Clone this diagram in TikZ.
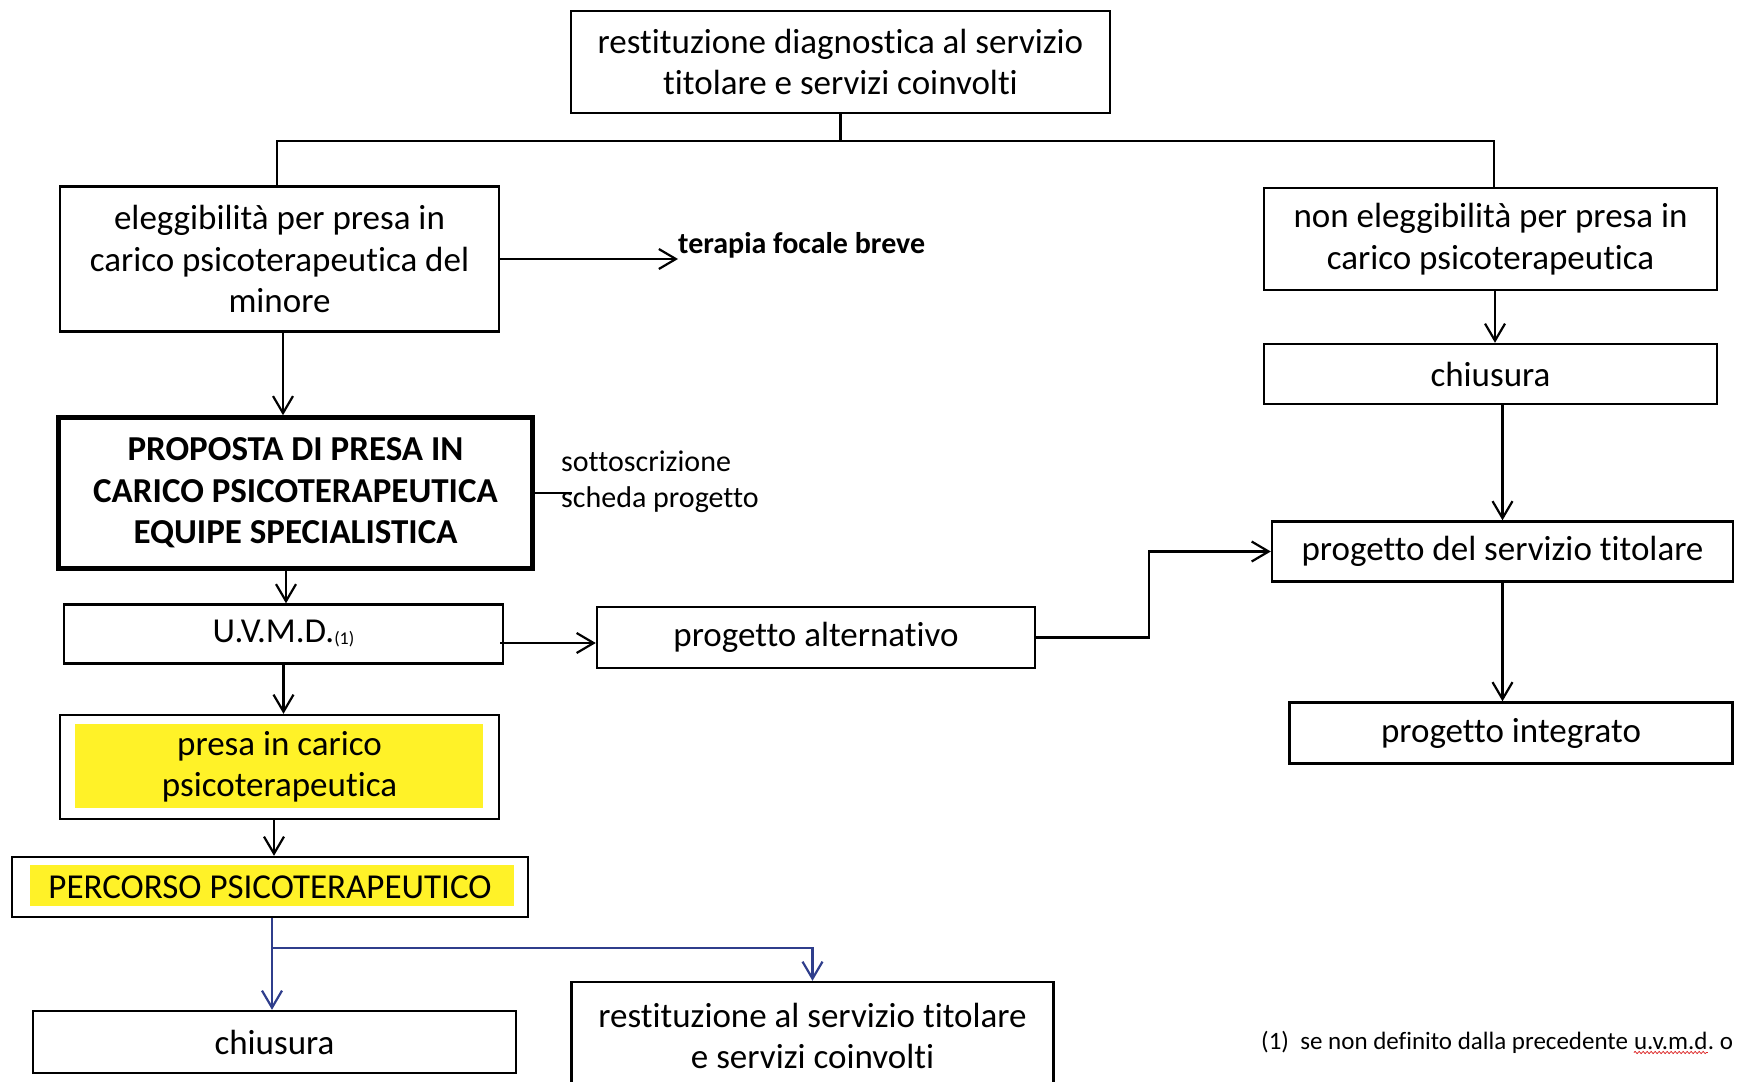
\documentclass[tikz,border=0pt]{standalone}
\usepackage{fontspec}
\setmainfont{Carlito}[RawFeature={-liga;-clig;-calt;-dlig}]
\usetikzlibrary{arrows.meta,decorations.pathmorphing}
\definecolor{hlyellow}{RGB}{255,242,40}
\definecolor{flowblue}{RGB}{47,62,140}
\definecolor{spellred}{RGB}{220,40,40}
\begin{document}
\begin{tikzpicture}[x=1pt,y=-1pt,
  box/.style={draw, line width=2.4pt, inner sep=0pt, align=center,
    font=\fontsize{35}{41.5}\selectfont},
  thickbox/.style={box, line width=4.5pt, font=\bfseries\fontsize{35}{41.5}\selectfont},
  note/.style={inner sep=0pt, align=left, font=\fontsize{30}{36.5}\selectfont},
  foot/.style={inner sep=0pt, anchor=base west, font=\fontsize{25}{29}\selectfont},
  link/.style={line width=2.2pt, line join=miter},
  arr/.style={link, -{Straight Barb[length=17pt,width=20pt]}},
  bluearr/.style={arr, draw=flowblue}
]
\useasboundingbox (0,0) rectangle (1739,1081);
\clip (0,0) rectangle (1739,1081);

% highlighted backgrounds
\fill[hlyellow] (75,724) rectangle (483,808);
\fill[hlyellow] (30,865) rectangle (514,906);

% boxes
\node[box, minimum width=539, minimum height=102] (top) at (840.5,62)
  {restituzione diagnostica al servizio\\titolare e servizi coinvolti};
\node[box, minimum width=439, minimum height=145] (elig) at (279.5,259)
  {eleggibilità per presa in\\carico psicoterapeutica del\\minore};
\node[box, minimum width=453, minimum height=102] (noel) at (1490.5,239)
  {non eleggibilità per presa in\\carico psicoterapeutica};
\node[box, minimum width=453, minimum height=60] (chiusR) at (1490.5,374) {chiusura};
\node[box, minimum width=461, minimum height=60] (progServ) at (1502.5,551.5)
  {progetto del servizio titolare};
\node[box, minimum width=443, minimum height=61] (progInt) at (1511,733) {progetto integrato};
\node[thickbox, minimum width=474, minimum height=151] (prop) at (295.5,493)
  {PROPOSTA DI PRESA IN\\CARICO PSICOTERAPEUTICA\\EQUIPE SPECIALISTICA};
\node[box, minimum width=439, minimum height=59] (uvmd) at (283.5,634)
  {U.V.M.D.\raisebox{-2pt}{\fontsize{18}{20}\selectfont(1)}};
\node[box, minimum width=438, minimum height=61] (progAlt) at (816,637.5) {progetto alternativo};
\node[box, minimum width=439, minimum height=104] (presa) at (279.5,767)
  {presa in carico\\psicoterapeutica};
\node[box, minimum width=516, minimum height=60] (perc) at (270,887) {PERCORSO PSICOTERAPEUTICO};
\node[box, minimum width=483, minimum height=62] (chiusB) at (274.5,1042) {chiusura};
\node[box, minimum width=482, minimum height=108] (restit) at (812.5,1036)
  {restituzione al servizio titolare\\e servizi coinvolti};

% free labels
\node[note, anchor=west, font=\bfseries\fontsize{30}{36}\selectfont] (tfb) at (678,245)
  {terapia focale breve};
\node[note, anchor=west] (sott) at (561,482) {sottoscrizione\\scheda progetto};

% footnote
\node[foot] (fnA) at (1261,1049) {(1)\ \ se non definito dalla precedente};
\node[foot] (fnB) at ([xshift=5.6pt]fnA.base east) {u.v.m.d};
\node[foot] (fnC) at (fnB.base east) {.\ o};
\draw[spellred, line width=0.8pt, decorate,
  decoration={snake, amplitude=1.1pt, segment length=4pt}]
  ([yshift=-3.5pt]fnB.base west) -- ([yshift=-3.5pt]fnB.base east);

% split below the first box
\coordinate (jL) at (277,141);
\coordinate (jR) at (1494,141);
\draw[link] (top.south) -- (top.south |- jL);
\draw[link] (jL |- elig.north) -- (jL) -- (jR) -- (jR |- noel.north);

% left column
\draw[arr] (elig.east) -- (elig.east -| tfb.west);
\path (elig.south) ++(3.5,0) coordinate (a1);
\draw[arr] (a1) -- (a1 |- prop.north);
\draw[link] (prop.east) -- ([xshift=11pt]prop.east -| sott.west);
\path (prop.south) ++(-9.5,0) coordinate (a2);
\draw[arr] (a2) -- (a2 |- uvmd.north);
\draw[arr] (uvmd.south) -- (uvmd.south |- presa.north);
\path (presa.south) ++(-5.5,0) coordinate (a3);
\draw[arr] (a3) -- (a3 |- perc.north);
\path (uvmd.east) ++(-4,9) coordinate (u1);
\draw[arr] (u1) -- (u1 -| progAlt.west);
\draw[arr] (progAlt.east) -- ++(113,0) |- (progServ.west);

% end of the path
\path (perc.south) ++(2,0) coordinate (a4);
\coordinate (br) at (a4 |- 0,948);
\draw[bluearr] (a4) -- (a4 |- chiusB.north);
\draw[bluearr] (br) -| (restit.north);

% right column
\path (noel.south) ++(4.5,0) coordinate (a5);
\draw[arr] (a5) -- (a5 |- chiusR.north);
\draw[arr] (progServ.north |- chiusR.south) -- (progServ.north);
\draw[arr] (progServ.south) -- (progServ.south |- progInt.north);
\end{tikzpicture}
\end{document}
